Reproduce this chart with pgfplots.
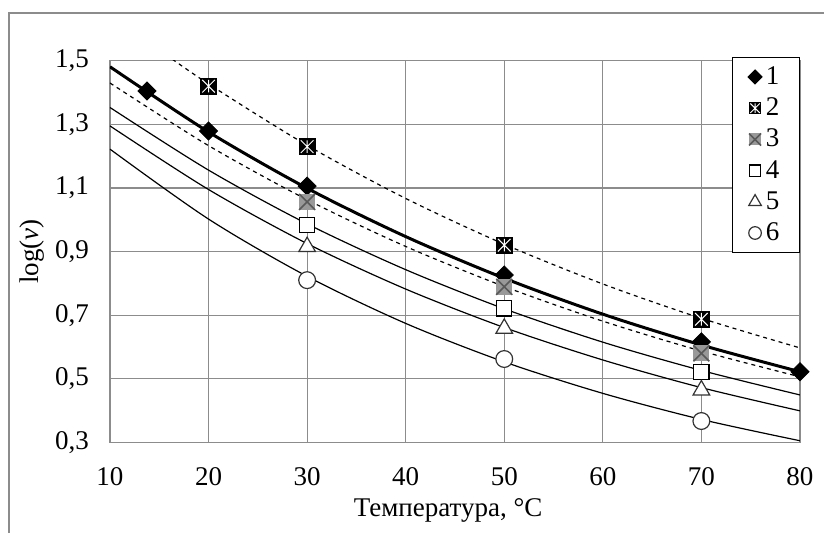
\documentclass[border=0pt]{standalone}
\usepackage{fontspec}
\setmainfont{Liberation Serif}
\usepackage{pgfplots}
\pgfplotsset{compat=1.18}

% filled square with a light cross on it
\pgfdeclareplotmark{sqxw}{%
  \pgfpathrectangle{\pgfqpoint{-\pgfplotmarksize}{-\pgfplotmarksize}}{\pgfqpoint{2\pgfplotmarksize}{2\pgfplotmarksize}}%
  \pgfusepathqfill
  \pgfsetstrokecolor{white}\pgfsetlinewidth{0.5pt}%
  \pgfpathmoveto{\pgfqpoint{-0.75\pgfplotmarksize}{-0.75\pgfplotmarksize}}%
  \pgfpathlineto{\pgfqpoint{0.75\pgfplotmarksize}{0.75\pgfplotmarksize}}%
  \pgfpathmoveto{\pgfqpoint{-0.75\pgfplotmarksize}{0.75\pgfplotmarksize}}%
  \pgfpathlineto{\pgfqpoint{0.75\pgfplotmarksize}{-0.75\pgfplotmarksize}}%
  \pgfpathmoveto{\pgfqpoint{0pt}{-0.75\pgfplotmarksize}}%
  \pgfpathlineto{\pgfqpoint{0pt}{0.75\pgfplotmarksize}}%
  \pgfusepathqstroke}
% grey square with a dark cross
\pgfdeclareplotmark{sqxg}{%
  \pgfpathrectangle{\pgfqpoint{-\pgfplotmarksize}{-\pgfplotmarksize}}{\pgfqpoint{2\pgfplotmarksize}{2\pgfplotmarksize}}%
  \pgfusepathqfill
  \pgfsetstrokecolor{black!65}\pgfsetlinewidth{0.8pt}%
  \pgfpathmoveto{\pgfqpoint{-\pgfplotmarksize}{-\pgfplotmarksize}}%
  \pgfpathlineto{\pgfqpoint{\pgfplotmarksize}{\pgfplotmarksize}}%
  \pgfpathmoveto{\pgfqpoint{-\pgfplotmarksize}{\pgfplotmarksize}}%
  \pgfpathlineto{\pgfqpoint{\pgfplotmarksize}{-\pgfplotmarksize}}%
  \pgfusepathqstroke}

\newcommand{\chartfont}{\fontsize{13.5}{15}\selectfont}
\pgfplotsset{
  leg/.style={legend image code/.code={%
      \draw[##1, every mark/.append style={scale=0.75}] plot coordinates {(0.18cm,0cm)};}},
  thin/.style={black, line width=0.6pt, smooth},
  dash/.style={black, line width=0.6pt, smooth, dash pattern=on 2pt off 2pt},
}

\begin{document}
\begin{tikzpicture}
\begin{axis}[
  width=345pt, height=190.8pt, scale only axis,
  xmin=10, xmax=80, ymin=0.3, ymax=1.5,
  xtick={10,20,30,40,50,60,70,80},
  ytick={0.3,0.5,0.7,0.9,1.1,1.3,1.5},
  grid=major,
  major grid style={black!45, line width=0.6pt},
  axis line style={black!45, line width=0.6pt},
  major tick length=0pt,
  tick label style={font=\chartfont},
  /pgf/number format/assume math mode=true,
  yticklabel style={/pgf/number format/.cd, fixed, fixed zerofill, precision=1, use comma},
  xticklabel shift=9pt, yticklabel shift=7pt,
  xlabel={Температура, °C},
  ylabel={log(\textit{v})},
  every axis x label/.style={at={(axis description cs:0.49,0)}, anchor=center, yshift=-34pt, font=\chartfont},
  every axis y label/.style={at={(axis description cs:0,0.5)}, rotate=90, anchor=center, yshift=39pt, font=\chartfont},
  legend style={at={(axis cs:80,1.512)}, anchor=north east, draw=black, line width=0.6pt,
    fill=white, font=\chartfont, row sep=1.2pt,
    inner xsep=8pt, inner ysep=2.5pt},
  legend cell align=left,
]
% trend curves
\addplot[black, line width=1.5pt, smooth, forget plot] coordinates {
  (10,1.481) (20,1.276) (30,1.099) (40,0.947) (50,0.816) (60,0.703) (70,0.606) (80,0.522)};
\addplot[dash, forget plot] coordinates {
  (15,1.534) (20,1.427) (30,1.234) (40,1.067) (50,0.923) (60,0.798) (70,0.690) (80,0.597)};
\addplot[dash, forget plot] coordinates {
  (10,1.430) (20,1.233) (30,1.063) (40,0.916) (50,0.790) (60,0.681) (70,0.587) (80,0.506)};
\addplot[thin, forget plot] coordinates {
  (10,1.353) (20,1.156) (30,0.987) (40,0.843) (50,0.720) (60,0.615) (70,0.526) (80,0.449)};
\addplot[thin, forget plot] coordinates {
  (10,1.295) (20,1.095) (30,0.925) (40,0.782) (50,0.661) (60,0.559) (70,0.472) (80,0.399)};
\addplot[thin, forget plot] coordinates {
  (10,1.222) (20,1.002) (30,0.822) (40,0.674) (50,0.553) (60,0.454) (70,0.372) (80,0.305)};

% measured points
\addplot[only marks, leg, mark=square*, mark size=3.2pt, mark options={rotate=45, draw=black, fill=black}]
  coordinates {(13.75,1.405) (20,1.279) (30,1.106) (50,0.826) (70,0.616) (80,0.522)};
\addlegendentry{1}
\addplot[only marks, leg, mark=sqxw, mark size=4.2pt, mark options={fill=black}]
  coordinates {(20,1.42) (30,1.23) (50,0.92) (70,0.687)};
\addlegendentry{2}
\addplot[only marks, leg, mark=sqxg, mark size=4pt, mark options={fill=black!40}]
  coordinates {(30,1.056) (50,0.789) (70,0.58)};
\addlegendentry{3}
\addplot[only marks, leg, mark=square*, mark size=3.8pt, mark options={draw=black, fill=white, line width=0.6pt}]
  coordinates {(30,0.984) (50,0.721) (70,0.522)};
\addlegendentry{4}
\addplot[only marks, leg, mark=triangle*, mark size=4.8pt, mark options={draw=black!80, fill=white, line width=0.6pt}]
  coordinates {(30,0.915) (50,0.658) (70,0.464)};
\addlegendentry{5}
\addplot[only marks, leg, mark=*, mark size=4.2pt, mark options={draw=black!80, fill=white, line width=0.6pt}]
  coordinates {(30,0.81) (50,0.562) (70,0.367)};
\addlegendentry{6}

\coordinate (fc) at (axis cs:-0.246,1.650);
\coordinate (bl) at (axis cs:-1.16,0.0147);
\coordinate (tr) at (axis cs:82.44,1.691);
\end{axis}
\draw[black!45, line width=0.6pt] (fc |- bl) -- (fc) -- (fc -| tr);
\pgfresetboundingbox
\path[use as bounding box] (bl) rectangle (tr);
\end{tikzpicture}
\end{document}
